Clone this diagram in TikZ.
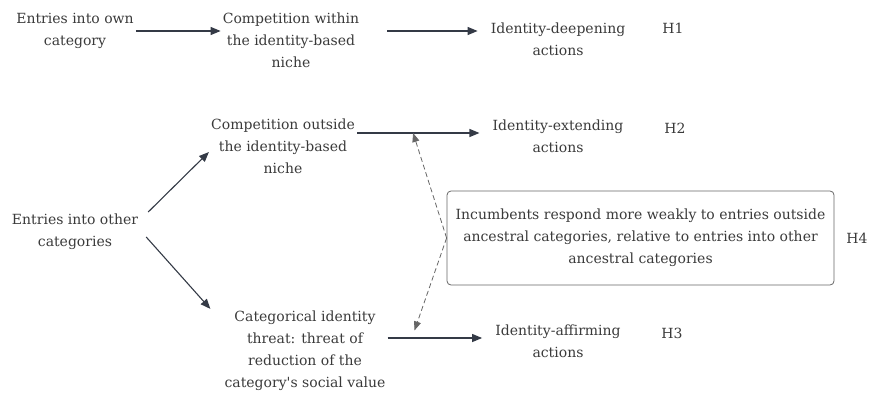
\documentclass[tikz,border=0pt]{standalone}
\usepackage{fontspec}
\setmainfont{DejaVu Serif}
\usetikzlibrary{arrows.meta}
\definecolor{txt}{HTML}{3A3A3A}
\definecolor{ink}{HTML}{343A46}
\definecolor{linkgray}{HTML}{666666}
\begin{document}
\begin{tikzpicture}[x=1pt,y=-1pt]
    \tikzstyle{every node}=[font=\fontsize{14}{22}\selectfont, text=txt, align=center, inner sep=2pt]
    \tikzstyle{arr}=[ink, line width=1.1pt, -{Triangle[length=10pt,width=8pt]}]
    \tikzstyle{dasharr}=[linkgray, line width=0.8pt, dash pattern=on 5pt off 3pt, -{Triangle[length=9pt,width=7pt]}]
    \tikzstyle{hbox}=[draw=linkgray, line width=0.8pt, rounded corners=4pt, minimum width=387pt, minimum height=94pt]
    \def\gap{11pt}
    \useasboundingbox (0,0) rectangle (869,396);
    % top row
    \node (own) at (75,31) {Entries into own\\category};
    \node (within) at (291,40) {Competition within\\the identity-based\\niche};
    \node (deep) at (558,39) {Identity-deepening\\actions};
    \node (h1) at (673,28) {H1};
    % lower part
    \node (outside) at (283,146) {Competition outside\\the identity-based\\niche};
    \node (extend) at (558,136) {Identity-extending\\actions};
    \node (h2) at (675,128) {H2};
    \node (other) at (75,232) {Entries into other\\categories};
    \node (threat) at (305,351) {Categorical identity\\threat: threat of\\reduction of the\\category\textquotesingle s social value};
    \node (affirm) at (558,341) {Identity-affirming\\actions};
    \node (h3) at (672,333) {H3};
    \node[hbox] (claim) at (640.5,238) {Incumbents respond more weakly to entries outside\\ancestral categories, relative to entries into other\\ancestral categories};
    \node (h4) at (857,238) {H4};
    \draw[arr] (own.east) -- (own.east -| within.west);
    \draw[arr, shorten <=26pt, shorten >=\gap] (within.east |- own.east) -- (own.east -| deep.west);
    \draw[arr, shorten >=\gap] ([yshift=13pt]outside.east) -- ([yshift=13pt]outside.east -| extend.west) coordinate[pos=0.42] (tapH2);
    \draw[arr, shorten >=\gap] ([yshift=13pt]threat.east) -- ([yshift=13pt]threat.east -| affirm.west) coordinate[pos=0.23] (tapH3);
    \draw[arr] ([xshift=8pt,yshift=20pt]other.east) -- ([yshift=-6pt]outside.west);
    \draw[arr] ([xshift=6pt,yshift=-5pt]other.east) -- ([xshift=-12pt]threat.north west);
    % dashed links to H4
    \draw[dasharr] (claim.west) -- (tapH2);
    \draw[dasharr, shorten >=8pt] (claim.west) -- (tapH3);
\end{tikzpicture}
\end{document}
